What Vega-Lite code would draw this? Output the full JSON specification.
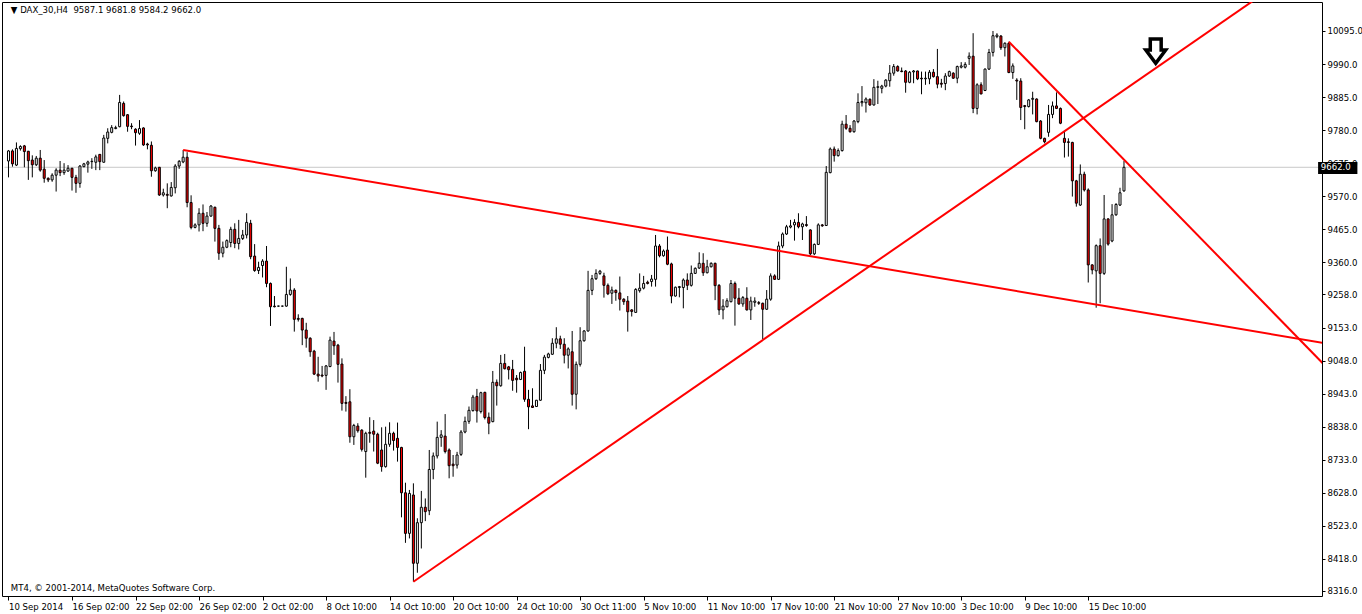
{
"$schema":"https://vega.github.io/schema/vega-lite/v6.json",
"width":1320,"height":594,
"autosize":{"type":"none"},
"padding":{"left":2,"top":2,"right":40,"bottom":18},
"background":"white",
"config":{"view":{"stroke":"black","strokeWidth":1}},
"datasets":{
"bid":[{"i":-1,"i2":331,"p":9662}],
"lines":[{"id":"a","i":44,"p":9717},{"id":"a","i":340,"p":9085},{"id":"b","i":102,"p":8345.5},{"id":"b","i":340,"p":10421.8},{"id":"c","i":252,"p":10061},{"id":"c","i":340,"p":8924}],
"arrow":[{"i":289,"p":10031}],
"texts":[{"i":0.6,"p":10162,"t":"▼ DAX_30,H4 \u00a09587.1 9681.8 9584.2 9662.0"},{"i":0.6,"p":8325,"t":"MT4, © 2001-2014, MetaQuotes Software Corp."}],
"box":[{"i":329.9,"i2":339.8,"p":9679,"p2":9641}],
"boxtext":[{"i":330.6,"p":9662,"t":"9662.0"}],
"candles":[
{"i":0,"o":9682,"h":9717,"l":9630,"c":9714},{"i":1,"o":9714,"h":9719,"l":9664,"c":9673},{"i":2,"o":9669,"h":9741,"l":9666,"c":9722},{"i":3,"o":9721,"h":9732,"l":9715,"c":9728},{"i":4,"o":9730,"h":9733,"l":9662,"c":9712},{"i":5,"o":9713,"h":9714,"l":9622,"c":9683},{"i":6,"o":9685,"h":9700,"l":9630,"c":9670},{"i":7,"o":9670,"h":9698,"l":9666,"c":9691},{"i":8,"o":9691,"h":9717,"l":9648,"c":9653},{"i":9,"o":9656,"h":9685,"l":9613,"c":9627},
{"i":10,"o":9627,"h":9630,"l":9615,"c":9622},{"i":11,"o":9622,"h":9643,"l":9616,"c":9637},{"i":12,"o":9637,"h":9659,"l":9585,"c":9653},{"i":13,"o":9653,"h":9682,"l":9634,"c":9645},{"i":14,"o":9645,"h":9675,"l":9638,"c":9653},{"i":15,"o":9650,"h":9669,"l":9648,"c":9659},{"i":16,"o":9659,"h":9660,"l":9588,"c":9630},{"i":17,"o":9630,"h":9638,"l":9581,"c":9611},{"i":18,"o":9611,"h":9669,"l":9597,"c":9666},{"i":19,"o":9664,"h":9676,"l":9662,"c":9673},
{"i":20,"o":9672,"h":9683,"l":9645,"c":9679},{"i":21,"o":9680,"h":9691,"l":9657,"c":9681},{"i":22,"o":9678,"h":9702,"l":9653,"c":9695},{"i":23,"o":9703,"h":9704,"l":9653,"c":9680},{"i":24,"o":9678,"h":9765,"l":9677,"c":9755},{"i":25,"o":9754,"h":9786,"l":9738,"c":9774},{"i":26,"o":9773,"h":9796,"l":9770,"c":9788},{"i":27,"o":9785,"h":9794,"l":9783,"c":9788},{"i":28,"o":9791,"h":9892,"l":9789,"c":9868},{"i":29,"o":9865,"h":9871,"l":9823,"c":9826},
{"i":30,"o":9829,"h":9831,"l":9775,"c":9792},{"i":31,"o":9793,"h":9802,"l":9783,"c":9791},{"i":32,"o":9783,"h":9786,"l":9731,"c":9772},{"i":33,"o":9770,"h":9812,"l":9765,"c":9785},{"i":34,"o":9787,"h":9789,"l":9730,"c":9733},{"i":35,"o":9736,"h":9740,"l":9719,"c":9733},{"i":36,"o":9732,"h":9744,"l":9632,"c":9651},{"i":37,"o":9651,"h":9664,"l":9648,"c":9660},{"i":38,"o":9662,"h":9663,"l":9571,"c":9574},{"i":39,"o":9574,"h":9594,"l":9569,"c":9581},
{"i":40,"o":9576,"h":9611,"l":9532,"c":9573},{"i":41,"o":9571,"h":9615,"l":9569,"c":9598},{"i":42,"o":9597,"h":9672,"l":9579,"c":9666},{"i":43,"o":9666,"h":9685,"l":9657,"c":9681},{"i":44,"o":9679,"h":9717,"l":9675,"c":9694},{"i":45,"o":9694,"h":9710,"l":9535,"c":9550},{"i":46,"o":9550,"h":9573,"l":9465,"c":9471},{"i":47,"o":9471,"h":9484,"l":9468,"c":9479},{"i":48,"o":9479,"h":9532,"l":9458,"c":9516},{"i":49,"o":9516,"h":9544,"l":9459,"c":9484},
{"i":50,"o":9484,"h":9520,"l":9473,"c":9507},{"i":51,"o":9507,"h":9542,"l":9505,"c":9539},{"i":52,"o":9535,"h":9537,"l":9426,"c":9468},{"i":53,"o":9468,"h":9479,"l":9368,"c":9389},{"i":54,"o":9389,"h":9426,"l":9376,"c":9408},{"i":55,"o":9408,"h":9433,"l":9405,"c":9429},{"i":56,"o":9423,"h":9473,"l":9408,"c":9465},{"i":57,"o":9465,"h":9484,"l":9405,"c":9420},{"i":58,"o":9420,"h":9495,"l":9401,"c":9436},{"i":59,"o":9436,"h":9463,"l":9431,"c":9447},
{"i":60,"o":9447,"h":9516,"l":9436,"c":9487},{"i":61,"o":9484,"h":9495,"l":9370,"c":9378},{"i":62,"o":9380,"h":9418,"l":9330,"c":9334},{"i":63,"o":9334,"h":9362,"l":9323,"c":9344},{"i":64,"o":9350,"h":9370,"l":9312,"c":9364},{"i":65,"o":9364,"h":9412,"l":9281,"c":9293},{"i":66,"o":9293,"h":9296,"l":9158,"c":9219},{"i":67,"o":9221,"h":9253,"l":9217,"c":9219},{"i":68,"o":9221,"h":9222,"l":9220,"c":9221},{"i":69,"o":9221,"h":9222,"l":9220,"c":9221},
{"i":70,"o":9221,"h":9346,"l":9219,"c":9258},{"i":71,"o":9258,"h":9309,"l":9254,"c":9272},{"i":72,"o":9272,"h":9278,"l":9140,"c":9179},{"i":73,"o":9182,"h":9195,"l":9172,"c":9179},{"i":74,"o":9182,"h":9184,"l":9097,"c":9145},{"i":75,"o":9145,"h":9168,"l":9089,"c":9119},{"i":76,"o":9119,"h":9122,"l":9060,"c":9076},{"i":77,"o":9078,"h":9082,"l":9002,"c":9005},{"i":78,"o":9005,"h":9060,"l":8981,"c":8999},{"i":79,"o":9002,"h":9031,"l":8995,"c":8999},
{"i":80,"o":9001,"h":9034,"l":8955,"c":9031},{"i":81,"o":9029,"h":9124,"l":9027,"c":9113},{"i":82,"o":9110,"h":9139,"l":9066,"c":9095},{"i":83,"o":9097,"h":9101,"l":8978,"c":9036},{"i":84,"o":9037,"h":9055,"l":8889,"c":8912},{"i":85,"o":8915,"h":8935,"l":8886,"c":8912},{"i":86,"o":8917,"h":8957,"l":8787,"c":8806},{"i":87,"o":8806,"h":8847,"l":8780,"c":8842},{"i":88,"o":8840,"h":8849,"l":8819,"c":8825},{"i":89,"o":8827,"h":8830,"l":8759,"c":8766},
{"i":90,"o":8759,"h":8822,"l":8676,"c":8817},{"i":91,"o":8820,"h":8868,"l":8787,"c":8817},{"i":92,"o":8824,"h":8859,"l":8759,"c":8814},{"i":93,"o":8814,"h":8819,"l":8719,"c":8722},{"i":94,"o":8764,"h":8836,"l":8695,"c":8711},{"i":95,"o":8711,"h":8838,"l":8708,"c":8782},{"i":96,"o":8782,"h":8852,"l":8774,"c":8817},{"i":97,"o":8817,"h":8822,"l":8762,"c":8794},{"i":98,"o":8801,"h":8851,"l":8727,"c":8772},{"i":99,"o":8772,"h":8774,"l":8550,"c":8628},
{"i":100,"o":8628,"h":8660,"l":8469,"c":8499},{"i":101,"o":8499,"h":8637,"l":8483,"c":8626},{"i":102,"o":8621,"h":8658,"l":8346,"c":8404},{"i":103,"o":8404,"h":8547,"l":8374,"c":8533},{"i":104,"o":8533,"h":8634,"l":8451,"c":8582},{"i":105,"o":8582,"h":8610,"l":8538,"c":8568},{"i":106,"o":8571,"h":8764,"l":8557,"c":8702},{"i":107,"o":8702,"h":8756,"l":8671,"c":8745},{"i":108,"o":8745,"h":8854,"l":8737,"c":8804},{"i":109,"o":8804,"h":8827,"l":8774,"c":8812},
{"i":110,"o":8808,"h":8878,"l":8753,"c":8759},{"i":111,"o":8764,"h":8769,"l":8674,"c":8714},{"i":112,"o":8719,"h":8748,"l":8679,"c":8714},{"i":113,"o":8716,"h":8758,"l":8705,"c":8748},{"i":114,"o":8750,"h":8827,"l":8745,"c":8821},{"i":115,"o":8821,"h":8870,"l":8817,"c":8855},{"i":116,"o":8855,"h":8902,"l":8847,"c":8890},{"i":117,"o":8889,"h":8939,"l":8886,"c":8932},{"i":118,"o":8934,"h":8958,"l":8851,"c":8888},{"i":119,"o":8886,"h":8949,"l":8880,"c":8946},
{"i":120,"o":8947,"h":8949,"l":8861,"c":8867},{"i":121,"o":8868,"h":8883,"l":8814,"c":8849},{"i":122,"o":8854,"h":9015,"l":8852,"c":8979},{"i":123,"o":8979,"h":8988,"l":8905,"c":8968},{"i":124,"o":8968,"h":9066,"l":8965,"c":9039},{"i":125,"o":9039,"h":9069,"l":9020,"c":9022},{"i":126,"o":9028,"h":9031,"l":8988,"c":9019},{"i":127,"o":9020,"h":9050,"l":8952,"c":8985},{"i":128,"o":8992,"h":9002,"l":8946,"c":8987},{"i":129,"o":8988,"h":9013,"l":8986,"c":9010},
{"i":130,"o":9014,"h":9092,"l":8917,"c":8925},{"i":131,"o":8925,"h":8955,"l":8830,"c":8901},{"i":132,"o":8904,"h":8960,"l":8898,"c":8899},{"i":133,"o":8902,"h":8923,"l":8901,"c":8922},{"i":134,"o":8922,"h":9037,"l":8920,"c":9017},{"i":135,"o":9017,"h":9066,"l":9005,"c":9059},{"i":136,"o":9058,"h":9073,"l":9055,"c":9069},{"i":137,"o":9068,"h":9119,"l":9066,"c":9103},{"i":138,"o":9103,"h":9154,"l":9087,"c":9117},{"i":139,"o":9117,"h":9127,"l":9085,"c":9100},
{"i":140,"o":9100,"h":9119,"l":9039,"c":9065},{"i":141,"o":9065,"h":9090,"l":9023,"c":9085},{"i":142,"o":9076,"h":9142,"l":8905,"c":8941},{"i":143,"o":8941,"h":9045,"l":8893,"c":9036},{"i":144,"o":9036,"h":9154,"l":9029,"c":9111},{"i":145,"o":9111,"h":9145,"l":9108,"c":9142},{"i":146,"o":9142,"h":9333,"l":9140,"c":9271},{"i":147,"o":9271,"h":9320,"l":9256,"c":9308},{"i":148,"o":9308,"h":9338,"l":9304,"c":9325},{"i":149,"o":9325,"h":9336,"l":9320,"c":9332},
{"i":150,"o":9317,"h":9327,"l":9248,"c":9287},{"i":151,"o":9287,"h":9293,"l":9256,"c":9260},{"i":152,"o":9262,"h":9283,"l":9228,"c":9272},{"i":153,"o":9271,"h":9274,"l":9238,"c":9264},{"i":154,"o":9263,"h":9315,"l":9207,"c":9243},{"i":155,"o":9243,"h":9246,"l":9225,"c":9235},{"i":156,"o":9237,"h":9253,"l":9140,"c":9203},{"i":157,"o":9209,"h":9211,"l":9188,"c":9204},{"i":158,"o":9201,"h":9278,"l":9200,"c":9274},{"i":159,"o":9270,"h":9325,"l":9264,"c":9278},
{"i":160,"o":9278,"h":9317,"l":9274,"c":9293},{"i":161,"o":9297,"h":9302,"l":9290,"c":9293},{"i":162,"o":9299,"h":9320,"l":9283,"c":9307},{"i":163,"o":9306,"h":9447,"l":9283,"c":9412},{"i":164,"o":9412,"h":9418,"l":9376,"c":9381},{"i":165,"o":9381,"h":9401,"l":9378,"c":9396},{"i":166,"o":9399,"h":9442,"l":9351,"c":9354},{"i":167,"o":9355,"h":9359,"l":9230,"c":9253},{"i":168,"o":9253,"h":9283,"l":9251,"c":9281},{"i":169,"o":9280,"h":9285,"l":9249,"c":9283},
{"i":170,"o":9280,"h":9309,"l":9214,"c":9304},{"i":171,"o":9304,"h":9325,"l":9272,"c":9287},{"i":172,"o":9287,"h":9350,"l":9283,"c":9325},{"i":173,"o":9325,"h":9344,"l":9323,"c":9341},{"i":174,"o":9342,"h":9392,"l":9339,"c":9357},{"i":175,"o":9357,"h":9389,"l":9317,"c":9327},{"i":176,"o":9327,"h":9368,"l":9325,"c":9346},{"i":177,"o":9346,"h":9360,"l":9344,"c":9357},{"i":178,"o":9357,"h":9359,"l":9240,"c":9286},{"i":179,"o":9287,"h":9291,"l":9193,"c":9209},
{"i":180,"o":9209,"h":9243,"l":9179,"c":9221},{"i":181,"o":9219,"h":9246,"l":9217,"c":9238},{"i":182,"o":9235,"h":9304,"l":9233,"c":9293},{"i":183,"o":9293,"h":9299,"l":9159,"c":9246},{"i":184,"o":9246,"h":9278,"l":9225,"c":9228},{"i":185,"o":9228,"h":9253,"l":9219,"c":9248},{"i":186,"o":9246,"h":9281,"l":9207,"c":9209},{"i":187,"o":9209,"h":9251,"l":9177,"c":9237},{"i":188,"o":9233,"h":9249,"l":9219,"c":9237},{"i":189,"o":9232,"h":9237,"l":9225,"c":9230},
{"i":190,"o":9230,"h":9232,"l":9116,"c":9211},{"i":191,"o":9211,"h":9272,"l":9209,"c":9243},{"i":192,"o":9243,"h":9325,"l":9238,"c":9317},{"i":193,"o":9317,"h":9322,"l":9304,"c":9306},{"i":194,"o":9306,"h":9426,"l":9304,"c":9412},{"i":195,"o":9412,"h":9455,"l":9405,"c":9450},{"i":196,"o":9450,"h":9479,"l":9447,"c":9473},{"i":197,"o":9472,"h":9495,"l":9468,"c":9476},{"i":198,"o":9479,"h":9497,"l":9429,"c":9487},{"i":199,"o":9487,"h":9516,"l":9468,"c":9473},
{"i":200,"o":9473,"h":9486,"l":9431,"c":9482},{"i":201,"o":9480,"h":9507,"l":9473,"c":9477},{"i":202,"o":9463,"h":9465,"l":9383,"c":9387},{"i":203,"o":9387,"h":9420,"l":9383,"c":9417},{"i":204,"o":9417,"h":9484,"l":9415,"c":9479},{"i":205,"o":9479,"h":9482,"l":9473,"c":9476},{"i":206,"o":9477,"h":9666,"l":9476,"c":9646},{"i":207,"o":9645,"h":9725,"l":9643,"c":9720},{"i":208,"o":9720,"h":9728,"l":9680,"c":9699},{"i":209,"o":9699,"h":9722,"l":9696,"c":9715},
{"i":210,"o":9715,"h":9810,"l":9712,"c":9799},{"i":211,"o":9799,"h":9828,"l":9781,"c":9786},{"i":212,"o":9786,"h":9796,"l":9772,"c":9775},{"i":213,"o":9775,"h":9812,"l":9772,"c":9809},{"i":214,"o":9807,"h":9897,"l":9802,"c":9868},{"i":215,"o":9867,"h":9920,"l":9855,"c":9871},{"i":216,"o":9867,"h":9884,"l":9836,"c":9879},{"i":217,"o":9878,"h":9881,"l":9857,"c":9860},{"i":218,"o":9860,"h":9942,"l":9858,"c":9916},{"i":219,"o":9916,"h":9937,"l":9863,"c":9918},
{"i":220,"o":9913,"h":9924,"l":9897,"c":9920},{"i":221,"o":9920,"h":9942,"l":9916,"c":9939},{"i":222,"o":9937,"h":9987,"l":9918,"c":9961},{"i":223,"o":9961,"h":9990,"l":9953,"c":9982},{"i":224,"o":9982,"h":9986,"l":9966,"c":9968},{"i":225,"o":9968,"h":9979,"l":9964,"c":9966},{"i":226,"o":9968,"h":9971,"l":9899,"c":9932},{"i":227,"o":9932,"h":9968,"l":9929,"c":9964},{"i":228,"o":9965,"h":9971,"l":9929,"c":9968},{"i":229,"o":9968,"h":9969,"l":9939,"c":9943},
{"i":230,"o":9945,"h":9966,"l":9894,"c":9943},{"i":231,"o":9943,"h":9966,"l":9924,"c":9945},{"i":232,"o":9943,"h":9971,"l":9926,"c":9964},{"i":233,"o":9964,"h":9974,"l":9947,"c":9950},{"i":234,"o":9950,"h":10038,"l":9913,"c":9926},{"i":235,"o":9929,"h":9943,"l":9915,"c":9926},{"i":236,"o":9928,"h":9961,"l":9907,"c":9952},{"i":237,"o":9952,"h":9969,"l":9949,"c":9966},{"i":238,"o":9961,"h":9964,"l":9943,"c":9945},{"i":239,"o":9945,"h":9985,"l":9929,"c":9982},
{"i":240,"o":9980,"h":9996,"l":9976,"c":9984},{"i":241,"o":9980,"h":9996,"l":9976,"c":9989},{"i":242,"o":10008,"h":10027,"l":9987,"c":10015},{"i":243,"o":10015,"h":10088,"l":9834,"c":9849},{"i":244,"o":9849,"h":9929,"l":9830,"c":9924},{"i":245,"o":9924,"h":9932,"l":9894,"c":9895},{"i":246,"o":9906,"h":9976,"l":9904,"c":9974},{"i":247,"o":9974,"h":10038,"l":9971,"c":10027},{"i":248,"o":10027,"h":10095,"l":10014,"c":10080},{"i":249,"o":10077,"h":10088,"l":10072,"c":10082},
{"i":250,"o":10079,"h":10082,"l":10035,"c":10042},{"i":251,"o":10042,"h":10059,"l":10014,"c":10056},{"i":252,"o":10056,"h":10061,"l":9961,"c":9963},{"i":253,"o":9963,"h":9992,"l":9943,"c":9984},{"i":254,"o":9939,"h":9945,"l":9876,"c":9936},{"i":255,"o":9936,"h":9945,"l":9812,"c":9852},{"i":256,"o":9858,"h":9860,"l":9783,"c":9855},{"i":257,"o":9855,"h":9879,"l":9852,"c":9876},{"i":258,"o":9878,"h":9902,"l":9830,"c":9881},{"i":259,"o":9879,"h":9881,"l":9805,"c":9807},
{"i":260,"o":9809,"h":9812,"l":9751,"c":9754},{"i":261,"o":9754,"h":9756,"l":9738,"c":9743},{"i":262,"o":9773,"h":9860,"l":9759,"c":9830},{"i":263,"o":9830,"h":9871,"l":9818,"c":9857},{"i":264,"o":9857,"h":9900,"l":9847,"c":9849},{"i":265,"o":9849,"h":9852,"l":9799,"c":9802},{"i":266,"o":9754,"h":9775,"l":9693,"c":9741},{"i":267,"o":9743,"h":9754,"l":9696,"c":9741},{"i":268,"o":9741,"h":9743,"l":9569,"c":9619},{"i":269,"o":9619,"h":9622,"l":9537,"c":9548},
{"i":270,"o":9542,"h":9671,"l":9539,"c":9640},{"i":271,"o":9640,"h":9648,"l":9585,"c":9590},{"i":272,"o":9590,"h":9595,"l":9296,"c":9352},{"i":273,"o":9352,"h":9354,"l":9322,"c":9336},{"i":274,"o":9333,"h":9417,"l":9216,"c":9413},{"i":275,"o":9413,"h":9436,"l":9230,"c":9325},{"i":276,"o":9325,"h":9574,"l":9320,"c":9498},{"i":277,"o":9498,"h":9500,"l":9413,"c":9418},{"i":278,"o":9428,"h":9545,"l":9424,"c":9511},{"i":279,"o":9511,"h":9548,"l":9508,"c":9544},
{"i":280,"o":9542,"h":9597,"l":9539,"c":9581},{"i":281,"o":9587.1,"h":9681.8,"l":9584.2,"c":9662.0}
]},
"encoding":{
"x":{"field":"i","type":"quantitative","scale":{"domain":[-0.375,329.625],"nice":false,"zero":false},
"axis":{"orient":"bottom","title":null,"values":[0,16,32,48,64,80,96,112,128,144,160,176,192,208,224,240,256,272],
"labelExpr":"['10 Sep 2014','16 Sep 02:00','22 Sep 02:00','26 Sep 02:00','2 Oct 02:00','8 Oct 10:00','14 Oct 10:00','20 Oct 10:00','24 Oct 10:00','30 Oct 11:00','5 Nov 10:00','11 Nov 10:00','17 Nov 10:00','21 Nov 10:00','27 Nov 10:00','3 Dec 10:00','9 Dec 10:00','15 Dec 10:00'][round(datum.value/16)]",
"domain":false,"grid":false,"tickSize":4,"tickColor":"black","labelAlign":"left","labelPadding":1,"labelDx":1,"labelFont":"DejaVu Sans Condensed","labelFontSize":9.5,"labelColor":"black","labelOverlap":false,"labelFlush":false,"labelBound":false}},
"y":{"field":"p","type":"quantitative","scale":{"domain":[8300.1,10187.1],"nice":false,"zero":false},
"axis":{"orient":"right","title":null,"values":[10095,9990,9885,9780,9675,9570,9465,9360,9258,9153,9048,8943,8838,8733,8628,8523,8418,8316],"format":".1f","domain":false,"grid":false,"tickSize":3,"tickColor":"black","labelPadding":2,"labelFont":"DejaVu Sans Condensed","labelFontSize":9.5,"labelColor":"black","labelOverlap":false,"labelFlush":false,"labelBound":false}}
},
"layer":[
{"data":{"name":"bid"},"mark":{"type":"rule","color":"#c8c8c8","strokeWidth":1,"clip":true},"encoding":{"x2":{"field":"i2"}}},
{"data":{"name":"candles"},"mark":{"type":"rule","color":"black","strokeWidth":1},
"encoding":{"y":{"field":"l","type":"quantitative","scale":{"domain":[8300.1,10187.1],"nice":false,"zero":false},
"axis":{"orient":"right","title":null,"values":[10095,9990,9885,9780,9675,9570,9465,9360,9258,9153,9048,8943,8838,8733,8628,8523,8418,8316],"format":".1f","domain":false,"grid":false,"tickSize":3,"tickColor":"black","labelPadding":2,"labelFont":"DejaVu Sans Condensed","labelFontSize":9.5,"labelColor":"black","labelOverlap":false,"labelFlush":false,"labelBound":false}},"y2":{"field":"h"}}},
{"data":{"name":"candles"},"mark":{"type":"bar","size":2,"stroke":"black","strokeWidth":1},
"encoding":{"y":{"field":"o","type":"quantitative","scale":{"domain":[8300.1,10187.1],"nice":false,"zero":false},
"axis":{"orient":"right","title":null,"values":[10095,9990,9885,9780,9675,9570,9465,9360,9258,9153,9048,8943,8838,8733,8628,8523,8418,8316],"format":".1f","domain":false,"grid":false,"tickSize":3,"tickColor":"black","labelPadding":2,"labelFont":"DejaVu Sans Condensed","labelFontSize":9.5,"labelColor":"black","labelOverlap":false,"labelFlush":false,"labelBound":false}},"y2":{"field":"c"},
"fill":{"condition":{"test":"datum.c < datum.o","value":"#ff0000"},"value":"white"}}},
{"data":{"name":"lines"},"mark":{"type":"line","color":"#ff0000","strokeWidth":2,"clip":true},"encoding":{"detail":{"field":"id"}}},
{"data":{"name":"arrow"},"mark":{"type":"point","shape":"M -0.45,-1 L 0.45,-1 L 0.45,-0.1 L 0.82,-0.1 L 0,1 L -0.82,-0.1 L -0.45,-0.1 Z","size":586,"filled":true,"fill":"white","stroke":"black","strokeWidth":3.5,"opacity":1,"fillOpacity":1,"strokeOpacity":1}},
{"data":{"name":"texts"},"mark":{"type":"text","align":"left","baseline":"middle","font":"DejaVu Sans Condensed","fontSize":9.5,"color":"black"},"encoding":{"text":{"field":"t"}}},
{"data":{"name":"box"},"mark":{"type":"rect","color":"black"},"encoding":{"x2":{"field":"i2"},"y2":{"field":"p2"}}},
{"data":{"name":"boxtext"},"mark":{"type":"text","align":"left","baseline":"middle","font":"DejaVu Sans Condensed","fontSize":9.5,"color":"white"},"encoding":{"text":{"field":"t"}}}
]
}
